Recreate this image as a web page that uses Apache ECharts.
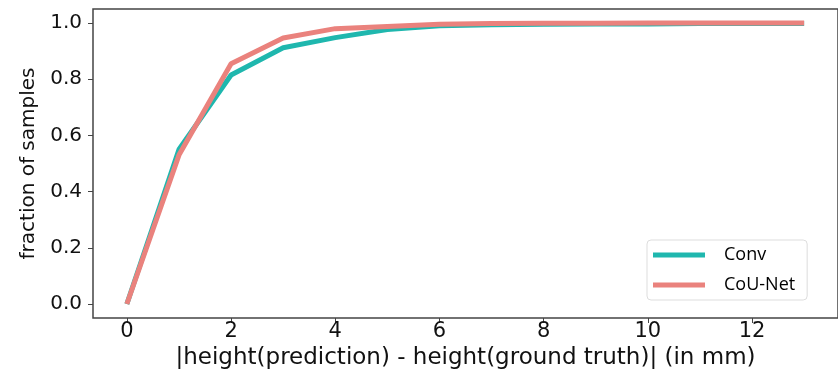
<!DOCTYPE html>
<html>
<head>
<meta charset="utf-8">
<script src="https://cdn.jsdelivr.net/npm/echarts@6/dist/echarts.min.js"></script>
<style>
  html, body { margin: 0; padding: 0; background: #fff; }
  #chart { width: 838px; height: 375px; }
</style>
</head>
<body>
<div id="chart"></div>
<script>
// error in mm
const errors = [0, 1, 2, 3, 4, 5, 6, 7, 8, 9, 10, 11, 12, 13];
const conv = [0, 0.55, 0.815, 0.912, 0.948, 0.977, 0.99, 0.994, 0.996, 0.997, 0.997, 0.998, 0.998, 0.998];
const couNet = [0, 0.53, 0.855, 0.947, 0.98, 0.988, 0.996, 0.998, 0.999, 0.999, 1.0, 1.0, 1.0, 1.0];
const xTicks = [0, 2, 4, 6, 8, 10, 12];
const yTicks = [0, 0.2, 0.4, 0.6, 0.8, 1.0];

const pairs = (ys) => errors.map((x, i) => [x, ys[i]]);

const chart = echarts.init(document.getElementById('chart'));

const font = 'DejaVu Sans';

chart.setOption({
  animation: false,
  grid: {
    left: 93, top: 9, right: -4, bottom: 55,
    show: true, borderColor: '#444', borderWidth: 1.5
  },
  legend: {
    orient: 'vertical',
    left: 647, top: 240,
    icon: 'rect',
    itemWidth: 52, itemHeight: 5, itemGap: 12,
    padding: [6, 12, 6, 6],
    borderColor: '#ddd', borderWidth: 1, borderRadius: 4,
    textStyle: { fontSize: 18, color: '#000', fontFamily: 'Open Sans', padding: [0, 0, 0, 14] },
    data: ['Conv', 'CoU-Net']
  },
  xAxis: {
    type: 'value',
    min: -0.65, max: 13.65,
    name: '|height(prediction) - height(ground truth)| (in mm)',
    nameLocation: 'middle',
    nameGap: 29,
    nameTextStyle: { fontSize: 23, color: '#111', fontFamily: font },
    axisLine: { show: false, onZero: false },
    axisTick: { show: true, length: 5, lineStyle: { color: '#444' }, customValues: xTicks },
    axisLabel: { margin: 3, customValues: xTicks, color: '#111', fontSize: 21, fontFamily: font },
    splitLine: { show: false }
  },
  yAxis: {
    type: 'value',
    min: -0.05, max: 1.05,
    name: 'fraction of samples',
    nameLocation: 'middle',
    nameGap: 54,
    nameTextStyle: { fontSize: 20, color: '#111', fontFamily: font },
    axisLine: { show: false, onZero: false },
    axisTick: { show: true, length: 5, lineStyle: { color: '#444' }, customValues: yTicks },
    axisLabel: {
      margin: 11, customValues: yTicks, color: '#111', fontSize: 20, fontFamily: font,
      formatter: (v) => v.toFixed(1)
    },
    splitLine: { show: false }
  },
  series: [
    {
      name: 'Conv',
      type: 'line',
      data: pairs(conv),
      symbol: 'none',
      color: '#1fb7ae',
      lineStyle: { width: 5 }
    },
    {
      name: 'CoU-Net',
      type: 'line',
      data: pairs(couNet),
      symbol: 'none',
      color: '#ea827d',
      lineStyle: { width: 5 }
    }
  ]
});
</script>
</body>
</html>
